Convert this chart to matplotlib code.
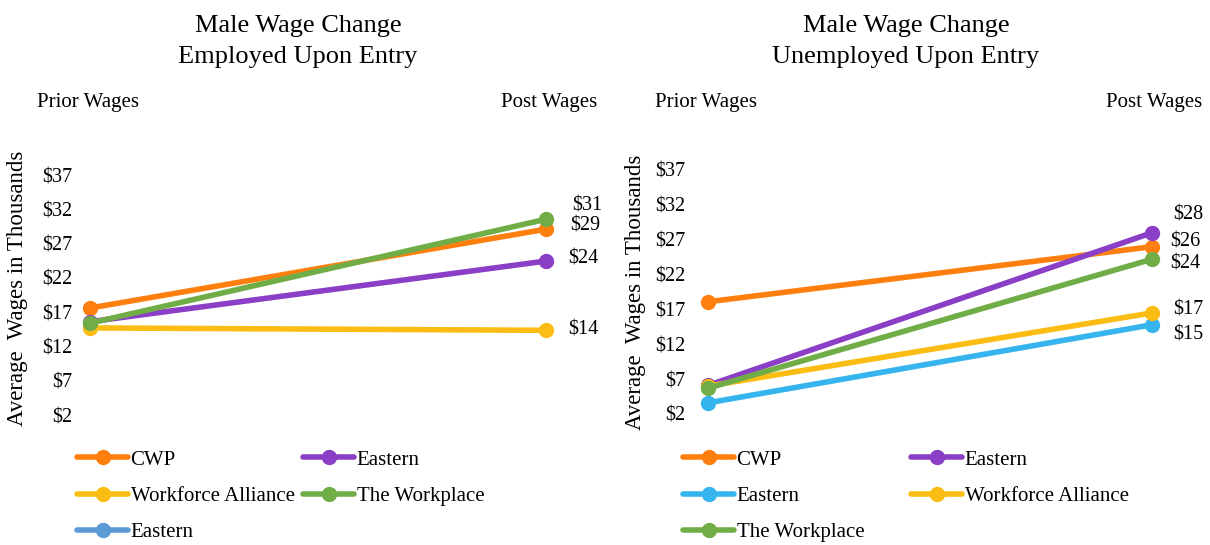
import matplotlib
matplotlib.use("Agg")
import matplotlib.pyplot as plt
import numpy as np

plt.rcParams['font.family'] = ['Liberation Serif', 'DejaVu Serif']

W, H = 1210, 545

categories = ['Prior Wages', 'Post Wages']
yticks = [2, 7, 12, 17, 22, 27, 32, 37]
ytick_labels = ['$2', '$7', '$12', '$17', '$22', '$27', '$32', '$37']

# Left panel: Employed Upon Entry
left_titles = ['Male Wage Change', 'Employed Upon Entry']
left_names = ['CWP', 'Eastern', 'Workforce Alliance', 'The Workplace', 'Eastern']
left_colors = ['#FF7F0E', '#8A3FC6', '#FBBC13', '#70AD47', '#5B9BD5']
left_cwp = [17.6, 29.1]
left_eastern = [15.6, 24.45]
left_wfa = [14.7, 14.35]
left_tw = [15.4, 30.55]
left_eastern2 = [np.nan, np.nan]
left_labels = ['$29', '$24', '$14', '$31', '']

# Right panel: Unemployed Upon Entry
right_titles = ['Male Wage Change', 'Unemployed Upon Entry']
right_names = ['CWP', 'Eastern', 'Eastern', 'Workforce Alliance', 'The Workplace']
right_colors = ['#FF7F0E', '#8A3FC6', '#35B4EE', '#FBBC13', '#70AD47']
right_cwp = [18.1, 26.0]
right_eastern = [6.1, 28.0]
right_eastern2 = [3.6, 14.8]
right_wfa = [6.0, 16.5]
right_tw = [5.7, 24.2]
right_labels = ['$26', '$28', '$15', '$17', '$24']

fig = plt.figure(figsize=(W / 100, H / 100), dpi=100)


def fx(px):
    return px / W


def fy(py):
    return 1 - py / H


def make_panel(ax_box, series, names, colors, labels, label_offsets, titles,
               title_cx, cat_left, cat_right, ylabel_x, ylabel_y, tickpad,
               legend_cols):
    x0, x1, ytop, ybot = ax_box
    ax = fig.add_axes([fx(x0), fy(ybot), fx(x1) - fx(x0), fy(ytop) - fy(ybot)])
    xs = np.arange(len(categories))
    lines = []
    for vals, name, col in zip(series, names, colors):
        ln, = ax.plot(xs, vals, color=col, lw=4.0, marker='o', ms=10,
                      solid_capstyle='round', clip_on=False, label=name)
        lines.append(ln)
    for vals, lab, off in zip(series, labels, label_offsets):
        if lab:
            ax.annotate(lab, (xs[-1], vals[-1]), xytext=off,
                        textcoords='offset pixels', ha='left', va='center',
                        fontsize=14.5, color='black')
    ax.set_xlim(0, 1)
    ax.set_ylim(2, 37)
    ax.set_yticks(yticks)
    ax.set_yticklabels(ytick_labels, fontsize=14.5)
    ax.set_xticks([])
    ax.tick_params(axis='y', length=0, pad=tickpad)
    for s in ax.spines.values():
        s.set_visible(False)
    ax.patch.set_alpha(0)
    fig.text(fx(title_cx), fy(32), titles[0], ha='center', va='baseline', fontsize=19)
    fig.text(fx(title_cx), fy(63), titles[1], ha='center', va='baseline', fontsize=19)
    fig.text(fx(cat_left), fy(107), categories[0], ha='left', va='baseline', fontsize=15)
    fig.text(fx(cat_right), fy(107), categories[1], ha='right', va='baseline', fontsize=15)
    fig.text(fx(ylabel_x), fy(ylabel_y), 'Average  Wages in Thousands', rotation=90,
             ha='center', va='center', fontsize=16.5)
    for idxs, lx in legend_cols:
        fig.legend(handles=[lines[i] for i in idxs], loc='upper left',
                   bbox_to_anchor=(fx(lx), fy(450)), frameon=False,
                   borderpad=0, borderaxespad=0, handlelength=2.45,
                   handletextpad=0.12, labelspacing=0.8, fontsize=15)
    return ax


make_panel((90, 546, 175, 415),
           [left_cwp, left_eastern, left_wfa, left_tw, left_eastern2],
           left_names, left_colors, left_labels,
           [(24, 3), (22, 2), (22, 0), (26, 13), (0, 0)],
           left_titles, 298, 37, 597, 18, 288, 13,
           [([0, 2, 4], 77), ([1, 3], 303)])

make_panel((708, 1152, 170, 414),
           [right_cwp, right_eastern, right_eastern2, right_wfa, right_tw],
           right_names, right_colors, right_labels,
           [(18, 5), (21, 18), (21, -10), (21, 3), (18, -5)],
           right_titles, 906, 655, 1202, 635, 292, 16,
           [([0, 2, 4], 683), ([1, 3], 911)])

fig.savefig('out.png', dpi=100)
